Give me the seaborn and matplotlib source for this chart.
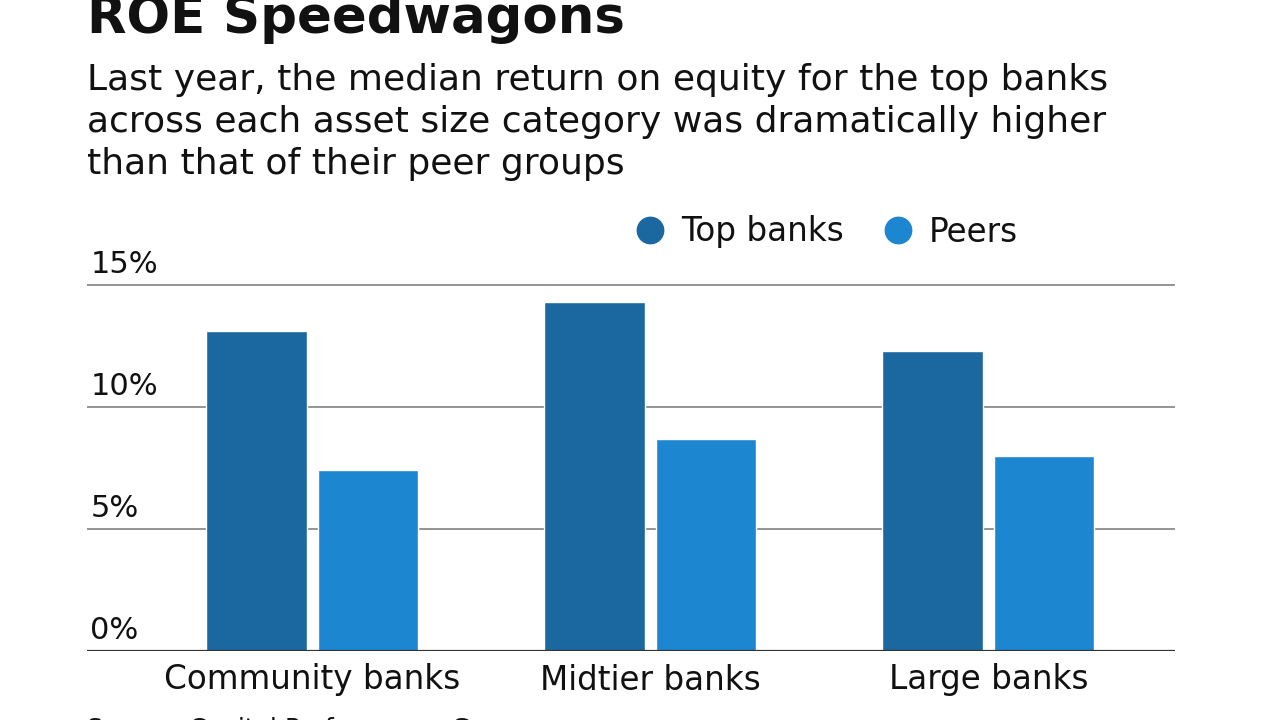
import pandas as pd
import matplotlib
matplotlib.use("Agg")
import matplotlib.pyplot as plt
import matplotlib.transforms as mtransforms
from matplotlib.lines import Line2D
import seaborn as sns

categories = ["Community banks", "Midtier banks", "Large banks"]
groups = ["Top banks", "Peers"]
top_banks = [13.1, 14.3, 12.3]
peers = [7.4, 8.7, 8.0]
yticks = [0, 5, 10, 15]
ytick_labels = ["0%", "5%", "10%", "15%"]
colors = ["#1b68a0", "#1c86d1"]
subtitle_lines = ["Last year, the median return on equity for the top banks",
                  "across each asset size category was dramatically higher",
                  "than that of their peer groups"]

rows = []
for i, cat in enumerate(categories):
    rows.append([cat, groups[0], top_banks[i]])
    rows.append([cat, groups[1], peers[i]])
df = pd.DataFrame(rows, columns=["Category", "Group", "ROE"])

sns.set_theme(style="white")
plt.rcParams["font.family"] = ["DejaVu Sans"]

fig = plt.figure(figsize=(12.8, 7.2), dpi=100)
ppu = 366 / 15
ytop = 15.3
ax = fig.add_axes([87 / 1280, 1 - 651 / 720, 1088 / 1280, ytop * ppu / 720])

sns.barplot(data=df, x="Category", y="ROE", hue="Group", palette=colors,
            width=0.66, gap=0.1, saturation=1, ax=ax, legend=False, zorder=3)

ax.set_xlim(-0.666, 2.552)
ax.set_ylim(0, ytop)
for s in ax.spines.values():
    s.set_visible(False)
ax.set_yticks([])
ax.set_xlabel("")
ax.set_ylabel("")
ax.tick_params(axis="x", length=0, labelsize=23.5, pad=9)
for lab in ax.get_xticklabels():
    lab.set_color("#111111")

trans = mtransforms.blended_transform_factory(ax.transAxes, ax.transData)
for v, lab in zip(yticks, ytick_labels):
    ax.axhline(v, color="#333333" if v == 0 else "#777777",
               lw=1.6 if v == 0 else 1.1, zorder=2 if v else 4)
    ax.text(0.003, v + 0.25, lab, transform=trans, ha="left", va="bottom",
            fontsize=22, color="#111111")

handles = [Line2D([], [], marker="o", linestyle="", markersize=19,
                  markerfacecolor=c, markeredgecolor=c) for c in colors]
leg = fig.legend(handles, groups, loc="center", bbox_to_anchor=(826 / 1280, 1 - 232 / 720),
                 ncol=2, frameon=False, fontsize=23.5, handletextpad=0.45,
                 columnspacing=1.15, handlelength=1.0)
for t in leg.get_texts():
    t.set_color("#111111")

fig.text(87 / 1280, 1 - 33 / 720, "ROE Speedwagons", fontsize=37,
         fontweight="bold", ha="left", va="baseline", color="#111111")
for i, line in enumerate(subtitle_lines):
    fig.text(87 / 1280, 1 - (90 + 42 * i) / 720, line, fontsize=26,
             ha="left", va="baseline", color="#111111")
fig.text(87 / 1280, 1 - 736 / 720, "Source: Capital Performance Group",
         fontsize=18, ha="left", va="baseline", color="#111111")

fig.savefig("out.png", dpi=100)
